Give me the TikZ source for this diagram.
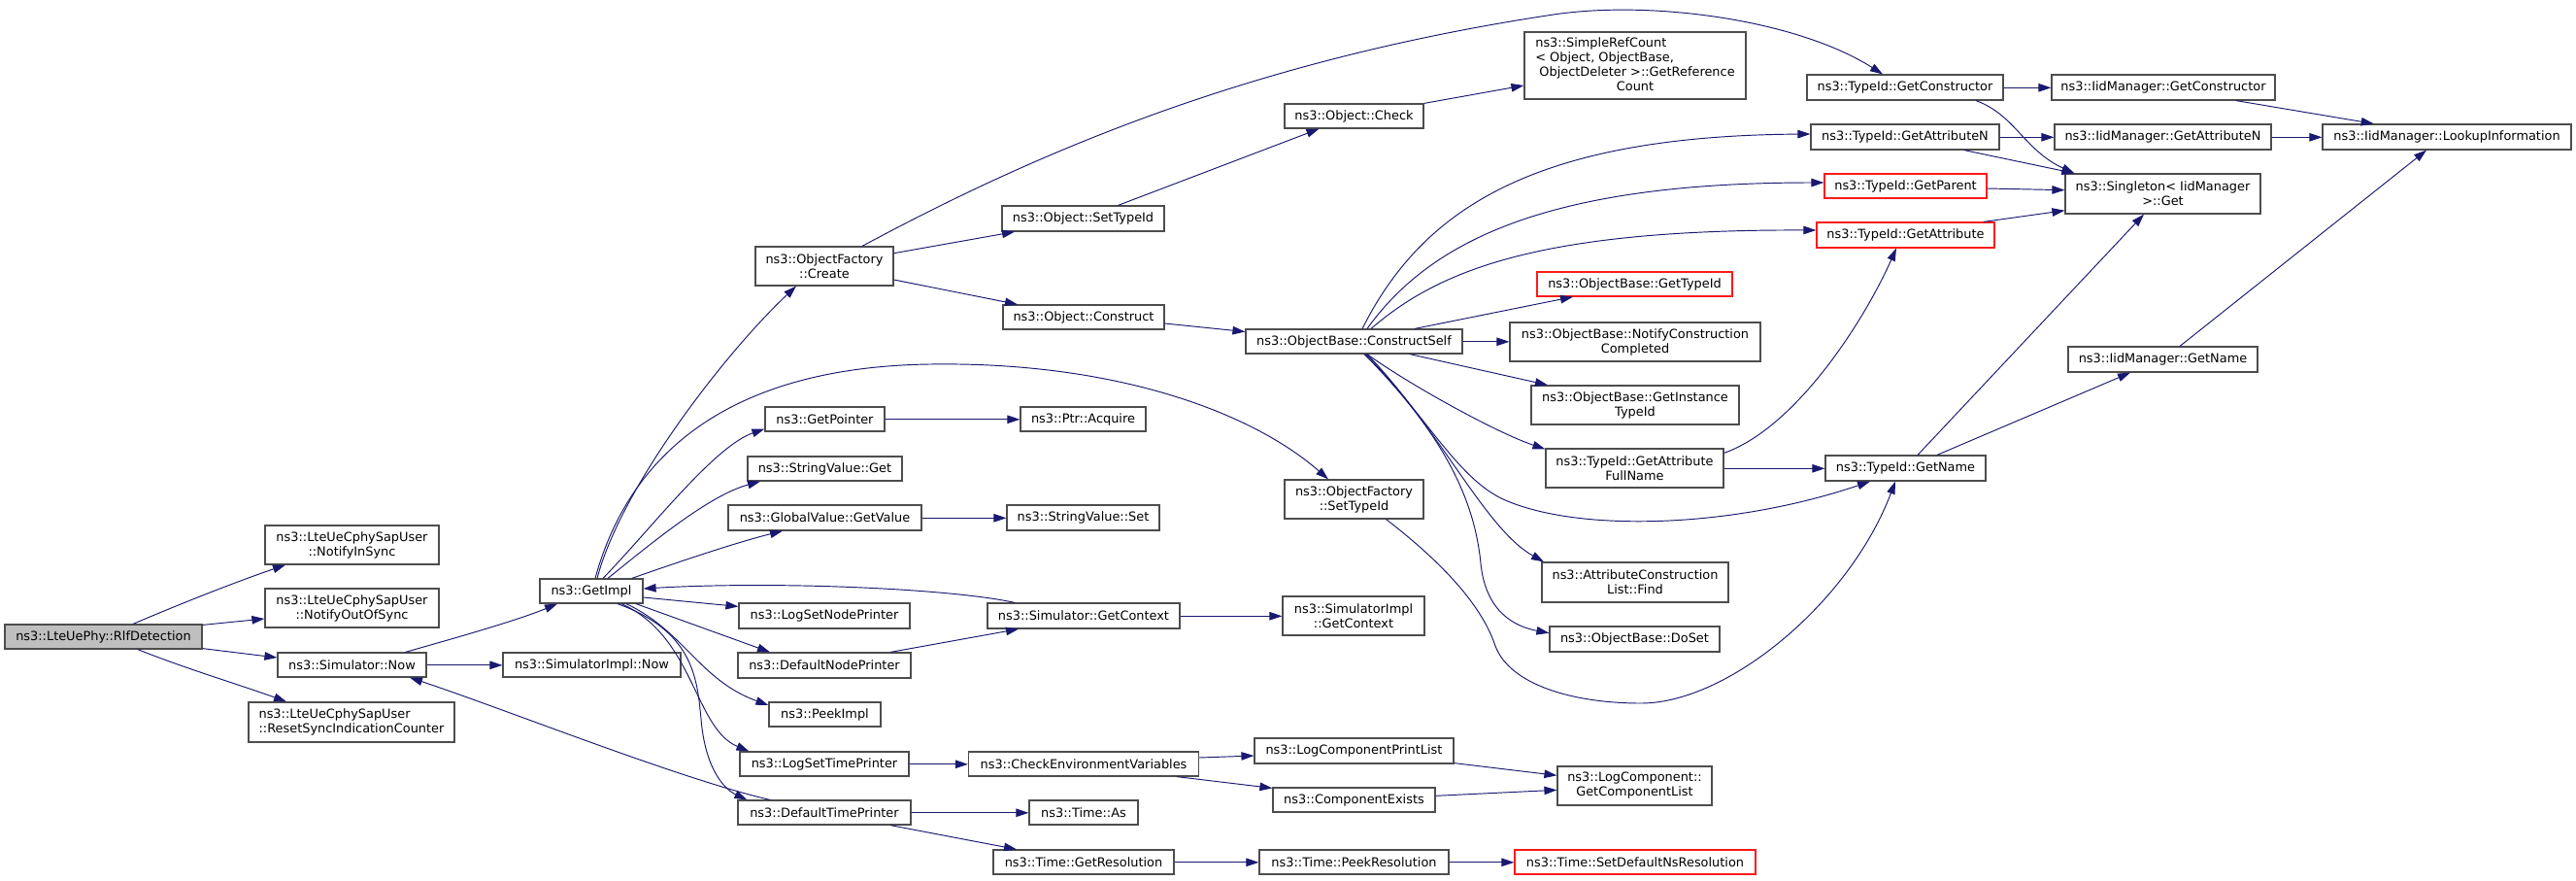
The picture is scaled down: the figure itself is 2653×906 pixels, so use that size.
\documentclass[tikz,border=0pt]{standalone}
\usepackage{fontspec}
\setmainfont{DejaVu Sans}
\usetikzlibrary{arrows.meta,calc}
\definecolor{edgec}{HTML}{191970}
\definecolor{bord}{HTML}{4D4D4D}
\definecolor{rootfill}{HTML}{BFBFBF}
\begin{document}
\begin{tikzpicture}[x=1pt,y=-1pt,
  box/.style={draw=bord, fill=white, line width=1.2pt, inner sep=0pt, font=\fontsize{12.9}{15}\selectfont, align=center, text=black},
  rootbox/.style={box, fill=rootfill},
  redbox/.style={box, draw=red!90!white},
  sz/.style 2 args={minimum width=#1pt, minimum height=#2pt},
  edge/.style={draw=edgec, line width=0.95pt, -{Triangle[length=13pt,width=8.5pt]}}]
\fill[white] (0,0) rectangle (2653,906);
\useasboundingbox (0,0) rectangle (2653,906);
% nodes
\node[rootbox, sz={203}{25}] (rlf) at (106.5,655.5) {ns3::LteUePhy::RlfDetection};
\node[box, sz={179}{40}] (nis) at (362.5,561) {ns3::LteUeCphySapUser\\::NotifyInSync};
\node[box, sz={179}{40}] (noos) at (362.5,626) {ns3::LteUeCphySapUser\\::NotifyOutOfSync};
\node[box, sz={153}{25}] (snow) at (362.5,684.5) {ns3::Simulator::Now};
\node[box, sz={212}{41}, align=left] (rsic) at (362,743.5) {ns3::LteUeCphySapUser\\::ResetSyncIndicationCounter};
\node[box, sz={106}{25}] (gimpl) at (609,608.5) {ns3::GetImpl};
\node[box, sz={183}{25}] (sinow) at (609.5,684.5) {ns3::SimulatorImpl::Now};
\node[box, sz={142}{40}] (ofcreate) at (849,274) {ns3::ObjectFactory\\::Create};
\node[box, sz={123}{25}] (getptr) at (849.5,431.5) {ns3::GetPointer};
\node[box, sz={159}{25}] (svget) at (849.5,482.5) {ns3::StringValue::Get};
\node[box, sz={199}{26}] (gvget) at (849.5,533) {ns3::GlobalValue::GetValue};
\node[box, sz={176}{26}] (lsnp) at (849,634) {ns3::LogSetNodePrinter};
\node[box, sz={178}{26}] (dnp) at (849,685) {ns3::DefaultNodePrinter};
\node[box, sz={115}{25}] (peek) at (849.5,735.5) {ns3::PeekImpl};
\node[box, sz={174}{25}] (lstp) at (849,786.5) {ns3::LogSetTimePrinter};
\node[box, sz={178}{25}] (dtp) at (849,836.5) {ns3::DefaultTimePrinter};
\node[box, sz={167}{26}] (osettid) at (1115.5,225) {ns3::Object::SetTypeId};
\node[box, sz={166}{25}] (oconstr) at (1116,326.5) {ns3::Object::Construct};
\node[box, sz={129}{25}] (ptracq) at (1115.5,431.5) {ns3::Ptr::Acquire};
\node[box, sz={157}{26}] (svset) at (1115.5,533) {ns3::StringValue::Set};
\node[box, sz={198}{26}] (sgetctx) at (1116,634) {ns3::Simulator::GetContext};
\node[box, sz={237}{25}] (cev) at (1116,786.5) {ns3::CheckEnvironmentVariables};
\node[box, sz={112}{25}] (tas) at (1116,836.5) {ns3::Time::As};
\node[box, sz={186}{25}] (tgres) at (1116,887.5) {ns3::Time::GetResolution};
\node[box, sz={143}{25}] (ocheck) at (1394.5,119.5) {ns3::Object::Check};
\node[box, sz={223}{25}] (cself) at (1394.5,351.5) {ns3::ObjectBase::ConstructSelf};
\node[box, sz={143}{40}] (ofsettid) at (1394.5,514) {ns3::ObjectFactory\\::SetTypeId};
\node[box, sz={146}{40}] (sictx) at (1394,634) {ns3::SimulatorImpl\\::GetContext};
\node[box, sz={205}{26}] (lcpl) at (1394.5,773) {ns3::LogComponentPrintList};
\node[box, sz={167}{25}] (cexist) at (1394.5,823.5) {ns3::ComponentExists};
\node[box, sz={195}{25}] (tpeek) at (1394.5,887.5) {ns3::Time::PeekResolution};
\node[box, sz={228}{69}] (srefc) at (1684,67.5) {\begin{tabular}{@{}l@{}}ns3::SimpleRefCount\\< Object, ObjectBase,\\\ ObjectDeleter >::GetReference\\\multicolumn{1}{@{}c@{}}{Count}\end{tabular}};
\node[redbox, sz={201}{25}] (obgtid) at (1683.5,292.5) {ns3::ObjectBase::GetTypeId};
\node[box, sz={258}{40}] (notif) at (1684,352) {ns3::ObjectBase::NotifyConstruction\\Completed};
\node[box, sz={214}{40}] (ginst) at (1684,417) {ns3::ObjectBase::GetInstance\\TypeId};
\node[box, sz={183}{40}] (gafn) at (1683.5,482) {ns3::TypeId::GetAttribute\\FullName};
\node[box, sz={192}{41}] (acfind) at (1684,599.5) {ns3::AttributeConstruction\\List::Find};
\node[box, sz={175}{26}] (doset) at (1683.5,658) {ns3::ObjectBase::DoSet};
\node[box, sz={159}{40}] (gcl) at (1683.5,809) {ns3::LogComponent::\\GetComponentList};
\node[redbox, sz={248}{25}] (tsdns) at (1684,887.5) {ns3::Time::SetDefaultNsResolution};
\node[box, sz={202}{26}] (tgetc) at (1962,90) {ns3::TypeId::GetConstructor};
\node[box, sz={194}{26}] (tgetan) at (1962,141) {ns3::TypeId::GetAttributeN};
\node[redbox, sz={167}{25}] (tgetp) at (1962.5,191.5) {ns3::TypeId::GetParent};
\node[redbox, sz={183}{26}] (tgeta) at (1962.5,242) {ns3::TypeId::GetAttribute};
\node[box, sz={165}{26}] (tgname) at (1962.5,482) {ns3::TypeId::GetName};
\node[box, sz={230}{26}] (igetc) at (2228,90) {ns3::IidManager::GetConstructor};
\node[box, sz={223}{26}] (igetan) at (2227.5,141) {ns3::IidManager::GetAttributeN};
\node[box, sz={201}{41}] (singl) at (2227.5,199.5) {ns3::Singleton< IidManager\\ >::Get};
\node[box, sz={195}{26}] (igname) at (2227.5,370) {ns3::IidManager::GetName};
\node[box, sz={256}{26}] (lookup) at (2520,141) {ns3::IidManager::LookupInformation};
% edges
\draw[edge] ($(rlf.north)+(30.5,0)$) .. controls (180,624) and (240,600) .. ($(nis.south)+(-68.5,0)$);
\draw[edge] ($(rlf.north east)+(0,1)$) -- ($(noos.west)+(0,11)$);
\draw[edge] ($(rlf.south east)+(0,-1)$) -- ($(snow.west)+(0,-7.5)$);
\draw[edge] ($(rlf.south)+(35.5,0)$) .. controls (190,688) and (250,706) .. ($(rsic.north)+(-67,0)$);
\draw[edge] ($(snow.north)+(55,0)$) .. controls (450,662) and (530,640) .. ($(gimpl.south)+(-35,0)$);
\draw[edge] ($(snow.east)+(0,0.3)$) -- ($(sinow.west)+(0,0.3)$);
\draw[edge] ($(gimpl.north)+(6,0)$) .. controls (640,500) and (750,360) .. ($(ofcreate.south)+(-29,0)$);
\draw[edge] ($(gimpl.north)+(4,0)$) .. controls (650,460) and (760,378) .. (957,375) .. controls (1150,372) and (1290,425) .. ($(ofsettid.north)+(-26.5,0)$);
\draw[edge] ($(gimpl.north)+(12,0)$) .. controls (670,545) and (735,460) .. ($(getptr.west)+(0,10)$);
\draw[edge] ($(gimpl.north)+(17,0)$) .. controls (670,560) and (730,510) .. ($(svget.south)+(-66.5,0)$);
\draw[edge] ($(gimpl.north)+(41.7,0)$) .. controls (700,578) and (760,558) .. ($(gvget.south)+(-43.5,0)$);
\draw[edge] ($(gimpl.east)+(0,6.5)$) -- ($(lsnp.north west)+(0,4)$);
\draw[edge] ($(gimpl.south)+(46,0)$) -- ($(dnp.north)+(-56,0)$);
\draw[edge] ($(gimpl.south)+(36,0)$) .. controls (705,650) and (720,700) .. ($(peek.west)+(0,-9.5)$);
\draw[edge] ($(gimpl.south)+(31,0)$) .. controls (715,655) and (715,750) .. ($(lstp.north west)+(10,0)$);
\draw[edge] ($(gimpl.south)+(27,0)$) .. controls (715,650) and (718,700) .. (722,740) .. controls (726,790) and (745,812) .. ($(dtp.north west)+(10,0)$);
\draw[edge] ($(sgetctx.north)+(-71,0)$) .. controls (980,606) and (800,598) .. ($(gimpl.east)+(0,-2.5)$);
\draw[edge] ($(dtp.north)+(-56,0)$) .. controls (700,802) and (520,730) .. ($(snow.south)+(59.5,0)$);
\draw[edge] ($(dnp.north)+(68,0)$) -- ($(sgetctx.south)+(-67,0)$);
\draw[edge] ($(sgetctx.east)+(0,0.3)$) -- ($(sictx.west)+(0,0.3)$);
\draw[edge] ($(ofcreate.north)+(39,0)$) .. controls (1080,150) and (1300,60) .. (1600,15) .. controls (1700,0) and (1850,20) .. ($(tgetc.north)+(-23,0)$);
\draw[edge] ($(ofcreate.east)+(0,-13.3)$) -- ($(osettid.south)+(-70.5,0)$);
\draw[edge] ($(ofcreate.east)+(0,14)$) -- ($(oconstr.north)+(-68,0)$);
\draw[edge] ($(osettid.north)+(36,0)$) -- ($(ocheck.south)+(-36,0)$);
\draw[edge] (ocheck.north east) -- ($(srefc.west)+(0,20.5)$);
\draw[edge] ($(oconstr.east)+(0,6.5)$) -- ($(cself.west)+(0,-10)$);
\draw[edge] ($(cself.north)+(8.5,0)$) .. controls (1465,215) and (1580,140) .. ($(tgetan.west)+(0,-3)$);
\draw[edge] ($(cself.north)+(13.5,0)$) .. controls (1475,245) and (1600,188) .. ($(tgetp.west)+(0,-3.5)$);
\draw[edge] ($(cself.north)+(17.5,0)$) .. controls (1480,280) and (1580,236) .. ($(tgeta.west)+(0,-5)$);
\draw[edge] ($(cself.north)+(62.5,0)$) -- ($(obgtid.south)+(-63.5,0)$);
\draw[edge] ($(cself.east)+(0,0.3)$) -- ($(notif.west)+(0,-0.2)$);
\draw[edge] ($(cself.south)+(57.5,0)$) -- ($(ginst.north)+(-90,0)$);
\draw[edge] ($(cself.south)+(13.5,0)$) .. controls (1450,395) and (1540,445) .. ($(gafn.north west)+(0,1)$);
\draw[edge] ($(cself.south)+(12,0)$) .. controls (1470,430) and (1500,490) .. (1546,513) .. controls (1620,548) and (1780,545) .. ($(tgname.south)+(-36.5,0)$);
\draw[edge] ($(cself.south)+(13.5,0)$) .. controls (1485,445) and (1530,545) .. ($(acfind.north)+(-94,0)$);
\draw[edge] ($(cself.south)+(10.5,0)$) .. controls (1500,460) and (1520,530) .. (1525,580) .. controls (1530,630) and (1560,645) .. ($(doset.west)+(0,-6.3)$);
\draw[edge] ($(gafn.north east)+(0,5)$) .. controls (1850,440) and (1920,330) .. ($(tgeta.south)+(-9.5,0)$);
\draw[edge] ($(gafn.east)+(0,0.3)$) -- ($(tgname.west)+(0,0.3)$);
\draw[edge] ($(ofsettid.south)+(33,0)$) .. controls (1480,575) and (1525,620) .. (1540,665) .. controls (1555,705) and (1620,724) .. (1690,724) .. controls (1780,724) and (1905,620) .. ($(tgname.south)+(-10.5,0)$);
\draw[edge] ($(tgname.north)+(12.5,0)$) -- ($(singl.south)+(-19.5,0)$);
\draw[edge] ($(tgname.north)+(32.5,0)$) -- ($(igname.south)+(-33.5,0)$);
\draw[edge] ($(igname.north)+(17.5,0)$) -- ($(lookup.south)+(-21,0)$);
\draw[edge] ($(tgetc.east)+(0,0.3)$) -- ($(igetc.west)+(0,0.3)$);
\draw[edge] ($(tgetc.south)+(73,0)$) .. controls (2075,118) and (2085,155) .. ($(singl.north west)+(10,0)$);
\draw[edge] ($(igetc.south)+(75,0)$) -- ($(lookup.north)+(-75.3,0)$);
\draw[edge] ($(tgetan.east)+(0,0.3)$) -- ($(igetan.west)+(0,0.3)$);
\draw[edge] ($(tgetan.south)+(61,0)$) -- ($(singl.north west)+(10,0)$);
\draw[edge] ($(igetan.east)+(0,0.3)$) -- ($(lookup.west)+(0,0.3)$);
\draw[edge] ($(tgetp.east)+(0,2.5)$) -- ($(singl.west)+(0,-3.8)$);
\draw[edge] ($(tgeta.north east)+(-12,0)$) -- ($(singl.west)+(0,17.2)$);
\draw[edge] ($(getptr.east)+(0,0.3)$) -- ($(ptracq.west)+(0,0.3)$);
\draw[edge] ($(gvget.east)+(0,0.3)$) -- ($(svset.west)+(0,0.3)$);
\draw[edge] ($(lstp.east)+(0,0.3)$) -- ($(cev.west)+(0,0.3)$);
\draw[edge] ($(cev.east)+(0,-6.5)$) -- ($(lcpl.west)+(0,5)$);
\draw[edge] ($(cev.south)+(96,0)$) -- ($(cexist.north west)+(0,1)$);
\draw[edge] ($(lcpl.south east)+(0,-1)$) -- ($(gcl.west)+(0,-10.7)$);
\draw[edge] ($(cexist.east)+(0,-4.2)$) -- ($(gcl.west)+(0,4.3)$);
\draw[edge] ($(dtp.east)+(0,0.3)$) -- ($(tas.west)+(0,0.3)$);
\draw[edge] ($(dtp.south)+(68,0)$) -- ($(tgres.north)+(-69,0)$);
\draw[edge] ($(tgres.east)+(0,0.3)$) -- ($(tpeek.west)+(0,0.3)$);
\draw[edge] ($(tpeek.east)+(0,0.3)$) -- ($(tsdns.west)+(0,0.3)$);
\end{tikzpicture}
\end{document}
